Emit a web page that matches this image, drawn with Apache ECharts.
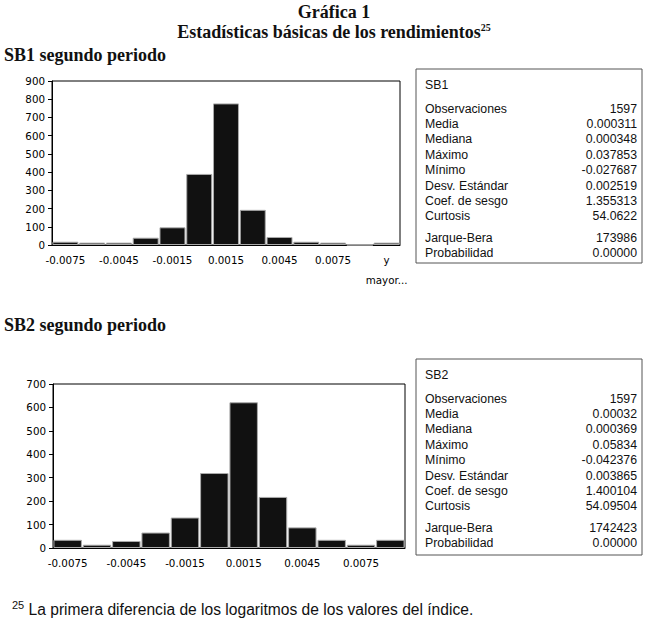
<!DOCTYPE html>
<html>
<head>
<meta charset="utf-8">
<script src="https://cdn.jsdelivr.net/npm/echarts/dist/echarts.min.js"></script>
<style>
  html, body { margin: 0; padding: 0; background: #fff; }
  #main { width: 648px; height: 623px; }
</style>
</head>
<body>
<div id="main"></div>
<script>
// datos de los histogramas
var bins1 = ['-0.0075', '-0.006', '-0.0045', '-0.003', '-0.0015', '0', '0.0015', '0.003', '0.0045', '0.006', '0.0075', '0.009', 'y\nmayor...'];
var freq1 = [18, 13, 13, 40, 97, 390, 777, 193, 44, 18, 13, 0, 13];

var bins2 = ['-0.0075', '-0.006', '-0.0045', '-0.003', '-0.0015', '0', '0.0015', '0.003', '0.0045', '0.006', '0.0075', 'y mayor...'];
var freq2 = [35, 14, 30, 66, 130, 320, 622, 218, 88, 35, 14, 35];

// estadísticas básicas
var statNames = ['Observaciones', 'Media', 'Mediana', 'Máximo', 'Mínimo', 'Desv. Estándar', 'Coef. de sesgo', 'Curtosis', 'Jarque-Bera', 'Probabilidad'];
var stats1 = ['1597', '0.000311', '0.000348', '0.037853', '-0.027687', '0.002519', '1.355313', '54.0622', '173986', '0.00000'];
var stats2 = ['1597', '0.00032', '0.000369', '0.05834', '-0.042376', '0.003865', '1.400104', '54.09504', '1742423', '0.00000'];

var sans = '"Liberation Sans", Arial, sans-serif';
var serif = '"Liberation Serif", "Times New Roman", serif';
var axisFont = '"DejaVu Sans", Verdana, sans-serif';

function statBox(name, values, top, height) {
  var els = [{
    type: 'rect',
    shape: { x: 416, y: top, width: 226, height: height },
    style: { fill: '#fff', stroke: '#555', lineWidth: 1 }
  }, {
    type: 'text', x: 425, y: top + 16,
    style: { text: name, fontSize: 12.3, fontFamily: sans, fill: '#111', textVerticalAlign: 'middle' }
  }];
  for (var i = 0; i < statNames.length; i++) {
    var y = top + 39.5 + i * 15.4 + (i >= 8 ? 6 : 0);
    els.push({
      type: 'text', x: 425, y: y,
      style: { text: statNames[i], fontSize: 12.3, fontFamily: sans, fill: '#111', textVerticalAlign: 'middle' }
    });
    els.push({
      type: 'text', x: 637, y: y,
      style: { text: values[i], fontSize: 12.3, fontFamily: sans, fill: '#111', textAlign: 'right', textVerticalAlign: 'middle' }
    });
  }
  return els;
}

function xAxisFor(idx, data, margin, lh) {
  return {
    type: 'category', gridIndex: idx, data: data,
    axisLine: { lineStyle: { color: '#000', width: 1 } },
    axisTick: { interval: 0, length: 5, lineStyle: { color: '#000' } },
    axisLabel: { interval: 1, color: '#000', fontSize: 10.3, fontFamily: axisFont, margin: margin, lineHeight: lh }
  };
}

function yAxisFor(idx, max) {
  return {
    type: 'value', gridIndex: idx, min: 0, max: max, interval: 100,
    axisLine: { show: true, lineStyle: { color: '#000', width: 1 } },
    axisTick: { show: true, length: 4, lineStyle: { color: '#000' } },
    splitLine: { show: false },
    axisLabel: { color: '#000', fontSize: 10.3, fontFamily: axisFont, margin: 7 }
  };
}

var barStyle = { color: '#111', borderColor: '#aaa', borderWidth: 1 };

var myChart = echarts.init(document.getElementById('main'), null, { renderer: 'svg' });

var option = {
  backgroundColor: '#fff',
  animation: false,
  grid: [
    { left: 52, top: 81, width: 348, height: 164, show: true, borderColor: '#000', borderWidth: 1 },
    { left: 53, top: 384, width: 352, height: 164, show: true, borderColor: '#000', borderWidth: 1 }
  ],
  xAxis: [xAxisFor(0, bins1, 5, 20), xAxisFor(1, bins2, 8, 14)],
  yAxis: [yAxisFor(0, 900), yAxisFor(1, 700)],
  series: [
    { type: 'bar', xAxisIndex: 0, yAxisIndex: 0, data: freq1, barCategoryGap: '3%', itemStyle: barStyle },
    { type: 'bar', xAxisIndex: 1, yAxisIndex: 1, data: freq2, barCategoryGap: '3%', itemStyle: barStyle }
  ],
  graphic: [
    { type: 'text', x: 334, y: 12,
      style: { text: 'Gráfica 1', fontSize: 18, fontWeight: 'bold', fontFamily: serif, fill: '#111', textAlign: 'center', textVerticalAlign: 'middle' } },
    { type: 'text', x: 334, y: 32,
      style: { text: 'Estadísticas básicas de los rendimientos{sup|25}', fontSize: 18, fontWeight: 'bold', fontFamily: serif, fill: '#111',
        textAlign: 'center', textVerticalAlign: 'middle', lineHeight: 20,
        rich: { sup: { fontSize: 10, fontWeight: 'bold', fontFamily: serif, fill: '#111', verticalAlign: 'top', lineHeight: 20 } } } },
    { type: 'text', x: 4, y: 55,
      style: { text: 'SB1 segundo periodo', fontSize: 18, fontWeight: 'bold', fontFamily: serif, fill: '#111', textVerticalAlign: 'middle' } },
    { type: 'text', x: 4, y: 325,
      style: { text: 'SB2 segundo periodo', fontSize: 18, fontWeight: 'bold', fontFamily: serif, fill: '#111', textVerticalAlign: 'middle' } },
    { type: 'text', x: 12, y: 609,
      style: { text: '{sup|25} La primera diferencia de los logaritmos de los valores del índice.', fontSize: 15.6, fontFamily: sans, fill: '#111',
        textVerticalAlign: 'middle', lineHeight: 20,
        rich: { sup: { fontSize: 11, fontFamily: sans, fill: '#111', verticalAlign: 'top', lineHeight: 20 } } } }
  ].concat(statBox('SB1', stats1, 69, 194), statBox('SB2', stats2, 359, 196))
};

myChart.setOption(option);
</script>
</body>
</html>
